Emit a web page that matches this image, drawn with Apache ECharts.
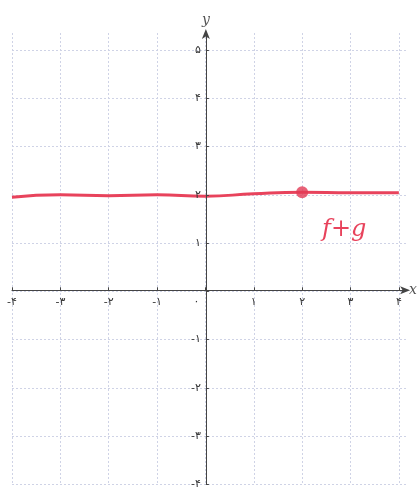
<!DOCTYPE html>
<html>
<head>
<meta charset="utf-8">
<script src="https://cdn.jsdelivr.net/npm/echarts@6/dist/echarts.min.js"></script>
<style>
  html, body { margin: 0; padding: 0; background: #fff; }
  #chart { width: 420px; height: 490px; }
</style>
</head>
<body>
<div id="chart"></div>
<script>
// نقاط منحنی f+g (خوانده شده از تصویر)
var xs = [-4, -3, -2, -1, 0, 1, 2, 3, 4]
var ys = [1.95, 2.0, 1.98, 2.0, 1.97, 2.02, 2.05, 2.04, 2.04]
var dot = [2, 2.05]
var faDigits = ['۰', '۱', '۲', '۳', '۴', '۵', '۶', '۷', '۸', '۹']

function fa(v) {
  if (Math.abs(v - Math.round(v)) > 1e-6) return ''
  var s = String(Math.abs(Math.round(v))).replace(/\d/g, function(d) { return faDigits[+d] })
  return v < 0 ? '-' + s : s
}

var W = 420, H = 490
var grid = { left: 12, right: 13, top: 33, bottom: 3 }
var xMin = -4, xMax = 4.15, yMin = -4, yMax = 5.35
// axes sit at the zero lines: shift them in from the grid edges
var xOffset = -((H - grid.top - grid.bottom) * (0 - yMin) / (yMax - yMin))
var yOffset = -((W - grid.left - grid.right) * (0 - xMin) / (xMax - xMin))

var gridLine = { show: true, showMaxLine: false, lineStyle: { color: '#cfd3e6', type: [2, 2], width: 1 } }
var axisLine = { show: true, onZero: false, symbol: ['none', 'arrow'], symbolSize: [6, 10], symbolOffset: [0, 4], lineStyle: { color: '#444', width: 1 } }
var nameStyle = { fontFamily: 'DejaVu Serif', fontStyle: 'italic', fontSize: 14, color: '#555' }
var tick = { show: true, length: 3, inside: true, lineStyle: { color: '#444' } }

// axis 0: background grid only, axis 1: axes, ticks and labels above the curve
var gridOnly = { axisLine: { show: false }, axisTick: { show: false }, axisLabel: { show: false }, splitLine: gridLine }

var chart = echarts.init(document.getElementById('chart'))
chart.setOption({
  backgroundColor: '#fff',
  animation: false,
  grid: grid,
  xAxis: [
    Object.assign({ type: 'value', min: xMin, max: xMax, interval: 1 }, gridOnly),
    {
      type: 'value', min: xMin, max: xMax, interval: 1,
      position: 'bottom', offset: xOffset, z: 5,
      name: 'x', nameGap: 3, nameTextStyle: nameStyle,
      axisLine: axisLine,
      axisTick: tick,
      axisLabel: {
        fontFamily: 'DejaVu Sans', fontSize: 11, color: '#333', margin: 6,
        showMaxLabel: false,
        formatter: function(v) { return v === 0 ? '{z|' + fa(v) + '}' : fa(v) },
        rich: { z: { fontFamily: 'DejaVu Sans', fontSize: 11, color: '#333', padding: [0, 18, 0, 0] } }
      },
      splitLine: { show: false }
    }
  ],
  yAxis: [
    Object.assign({ type: 'value', min: yMin, max: yMax, interval: 1 }, gridOnly),
    {
      type: 'value', min: yMin, max: yMax, interval: 1,
      position: 'left', offset: yOffset, z: 5,
      name: 'y', nameGap: 6, nameTextStyle: nameStyle,
      axisLine: axisLine,
      axisTick: tick,
      axisLabel: {
        fontFamily: 'DejaVu Sans', fontSize: 11, color: '#333', margin: 5,
        showMaxLabel: false,
        formatter: function(v) { return v === 0 ? '' : fa(v) }
      },
      splitLine: { show: false }
    }
  ],
  series: [
    {
      name: 'f+g',
      type: 'line',
      data: xs.map(function(x, i) { return [x, ys[i]] }),
      smooth: true,
      showSymbol: false,
      lineStyle: { color: '#e8435c', width: 3 },
      z: 3
    },
    {
      type: 'scatter',
      data: [dot],
      symbolSize: 12,
      itemStyle: { color: '#e23a55' },
      z: 4
    }
  ],
  graphic: [{
    type: 'text',
    left: 322,
    top: 218,
    style: {
      text: 'f+g',
      fill: '#e8435c',
      font: 'italic 24px "DejaVu Serif"'
    }
  }]
})
</script>
</body>
</html>
